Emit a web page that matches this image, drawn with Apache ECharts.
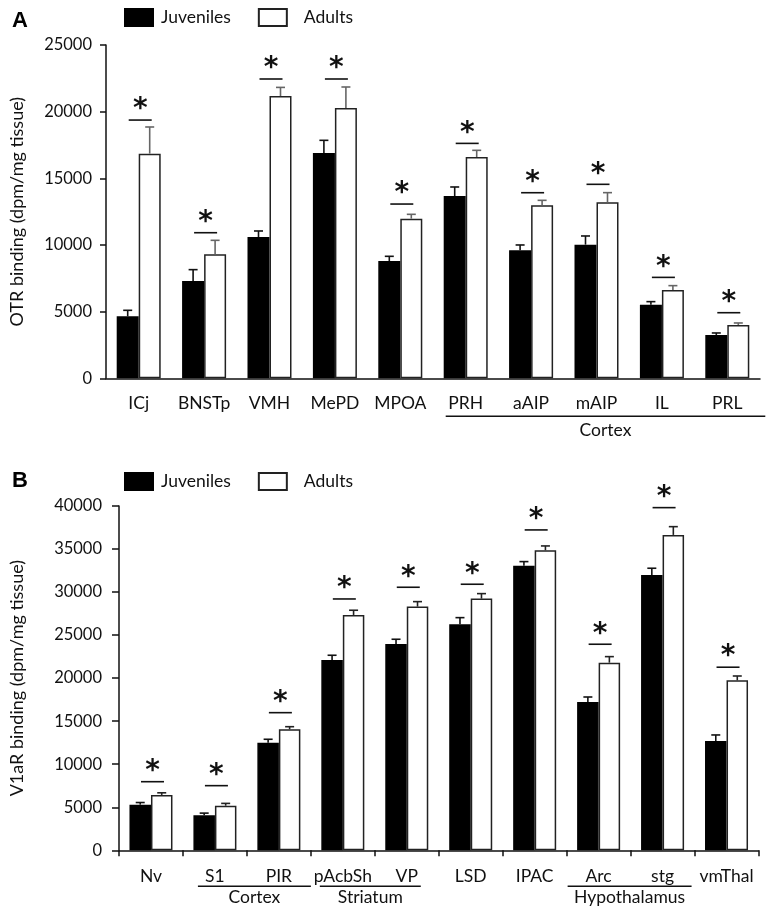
<!DOCTYPE html>
<html>
<head>
<meta charset="utf-8">
<script src="https://cdn.jsdelivr.net/npm/echarts@6/dist/echarts.min.js"></script>
<style>html,body{margin:0;padding:0;background:#fff}#c{width:767px;height:911px}</style>
</head>
<body>
<div id="c"></div>
<script>
// ---------- Panel A data (OTR binding) ----------
const catsA = ['ICj', 'BNSTp', 'VMH', 'MePD', 'MPOA', 'PRH', 'aAIP', 'mAIP', 'IL', 'PRL'];
const juvA = [4650, 7300, 10600, 16900, 8800, 13670, 9600, 10025, 5525, 3250];
const juvErrA = [450, 850, 450, 950, 350, 680, 400, 650, 225, 150];
const adA = [16850, 9300, 21170, 20270, 11975, 16600, 12975, 13200, 6625, 4000];
const adErrA = [2000, 1050, 650, 1580, 325, 500, 375, 725, 325, 150];
const sigA = [19370, 10920, 22450, 22450, 13070, 17620, 13920, 14550, 7570, 4920];
const groupsA = [['Cortex', 5, 9]];

// ---------- Panel B data (V1aR binding) ----------
const catsB = ['Nv', 'S1', 'PIR', 'pAcbSh', 'VP', 'LSD', 'IPAC', 'Arc', 'stg', 'vmThal'];
const juvB = [5300, 4070, 12500, 22110, 23970, 26260, 33070, 17230, 31990, 12700];
const juvErrB = [250, 250, 400, 550, 550, 770, 470, 580, 780, 700];
const adB = [6430, 5180, 14060, 27340, 28310, 29240, 34860, 21800, 36640, 19750];
const adErrB = [250, 270, 300, 550, 580, 580, 500, 700, 960, 500];
const sigB = [7970, 7510, 15990, 29200, 30560, 30910, 37220, 23940, 39810, 21270];
const groupsB = [['Cortex', 1, 2], ['Striatum', 3, 4], ['Hypothalamus', 7, 8]];

const yTicksA = { min: 0, max: 25000, interval: 5000 };
const yTicksB = { min: 0, max: 40000, interval: 5000 };

// ---------- style ----------
const FONT = 'Lato';
const TXT = '#111';
const bwA = 22, bwB = 21.5;
const padsA = [[-20, 38]];
const padsB = [[-17, 32], [-23, 14], [-31, 29]];

const chart = echarts.init(document.getElementById('c'), null, { renderer: 'canvas' });

function errSeries(vals, errs, side, bw, color, ax) {
  return {
    type: 'custom', xAxisIndex: ax, yAxisIndex: ax, z: 5, silent: true,
    data: vals.map((v, i) => [i, v, errs[i]]),
    renderItem: (params, api) => {
      const i = api.value(0), v = api.value(1), e = api.value(2);
      const b = api.coord([i, v]);
      const t = api.coord([i, v + e]);
      const x = b[0] + side * bw / 2;
      return {
        type: 'group', children: [
          { type: 'line', shape: { x1: x, y1: b[1], x2: x, y2: t[1] }, style: { stroke: color, lineWidth: 1.6 } },
          { type: 'line', shape: { x1: x - 4.5, y1: t[1], x2: x + 4.5, y2: t[1] }, style: { stroke: color, lineWidth: 1.6 } }
        ]
      };
    }
  };
}

function sigSeries(vals, ax) {
  return {
    type: 'custom', xAxisIndex: ax, yAxisIndex: ax, z: 6, silent: true,
    data: vals.map((v, i) => [i, v]),
    renderItem: (params, api) => {
      const c = api.coord([api.value(0), api.value(1)]);
      const cx = c[0] + 1.5;
      return {
        type: 'group', children: [
          { type: 'line', shape: { x1: cx - 11.5, y1: c[1], x2: cx + 11.5, y2: c[1] }, style: { stroke: '#111', lineWidth: 1.6 } },
          { type: 'text', style: { text: '*', x: cx, y: c[1] + 4, align: 'center', verticalAlign: 'bottom', fontSize: 28, fontWeight: 'bold', fontFamily: 'DejaVu Sans', fill: '#111' } }
        ]
      };
    }
  };
}

function groupSeries(groups, pads, ax, lineDy, textDy) {
  return {
    type: 'custom', xAxisIndex: ax, yAxisIndex: ax, z: 6, silent: true, clip: false,
    data: groups.map(g => [g[1], g[2]]),
    renderItem: (params, api) => {
      const p = pads[params.dataIndex];
      const a = api.coord([api.value(0), 0]);
      const b = api.coord([api.value(1), 0]);
      const x1 = a[0] + p[0], x2 = b[0] + p[1];
      const y = a[1];
      return {
        type: 'group', children: [
          { type: 'line', shape: { x1: x1, y1: y + lineDy, x2: x2, y2: y + lineDy }, style: { stroke: '#111', lineWidth: 1.6 } },
          { type: 'text', style: { text: groups[params.dataIndex][0], x: (x1 + x2) / 2, y: y + textDy, align: 'center', verticalAlign: 'middle', fontSize: 17.5, fontFamily: FONT, fill: TXT } }
        ]
      };
    }
  };
}

function barSeries(name, vals, ax, bw, fill, border) {
  return {
    name: name, type: 'bar', xAxisIndex: ax, yAxisIndex: ax, data: vals,
    barWidth: bw, barGap: '0%',
    itemStyle: { color: fill, borderColor: border, borderWidth: 1.5 },
    emphasis: { disabled: true }
  };
}

function legend(top) {
  return {
    left: 119, top: top, itemWidth: 28, itemHeight: 17, itemGap: 27, icon: 'rect',
    selectedMode: false,
    textStyle: { fontSize: 17.5, fontFamily: FONT, color: TXT },
    data: [
      { name: 'Juveniles', textStyle: { padding: [0, 0, 0, 3] } },
      { name: 'Adults', textStyle: { padding: [0, 0, 0, 12] } }
    ]
  };
}

const axisLine = { show: true, lineStyle: { color: '#111', width: 1.5 } };
const plain = v => String(v);

const option = {
  animation: false,
  backgroundColor: '#fff',
  title: [
    { text: 'A', left: 7, top: 5, textStyle: { fontSize: 22, fontWeight: 'bold', fontFamily: 'Liberation Sans', color: '#000' } },
    { text: 'B', left: 7, top: 465, textStyle: { fontSize: 22, fontWeight: 'bold', fontFamily: 'Liberation Sans', color: '#000' } }
  ],
  legend: [legend(3), legend(467)],
  grid: [
    { left: 94, right: 7, top: 45, bottom: 911 - 378.3 },
    { left: 106.7, right: 8.5, top: 506, bottom: 911 - 850.3 }
  ],
  xAxis: [
    {
      type: 'category', gridIndex: 0, data: catsA, axisLine: axisLine, axisTick: { show: false },
      axisLabel: { margin: 16, fontSize: 17.5, fontFamily: FONT, color: TXT, interval: 0 }
    },
    {
      type: 'category', gridIndex: 1, data: catsB, axisLine: axisLine,
      axisTick: { show: true, length: 6, lineStyle: { color: '#111', width: 1.5 } },
      axisLabel: { margin: 17, fontSize: 17.5, fontFamily: FONT, color: TXT, interval: 0 }
    }
  ],
  yAxis: [
    {
      type: 'value', gridIndex: 0, min: yTicksA.min, max: yTicksA.max, interval: yTicksA.interval,
      name: 'OTR binding (dpm/mg tissue)', nameLocation: 'middle', nameGap: 80,
      nameTextStyle: { fontSize: 18, fontFamily: FONT, color: TXT },
      axisLine: axisLine, axisTick: { show: true, length: 6, lineStyle: { color: '#111', width: 1.5 } },
      splitLine: { show: false },
      axisLabel: { margin: 14, fontSize: 16.5, fontFamily: FONT, color: TXT, formatter: plain }
    },
    {
      type: 'value', gridIndex: 1, min: yTicksB.min, max: yTicksB.max, interval: yTicksB.interval,
      name: 'V1aR binding (dpm/mg tissue)', nameLocation: 'middle', nameGap: 93,
      nameTextStyle: { fontSize: 18, fontFamily: FONT, color: TXT },
      axisLine: axisLine, axisTick: { show: true, length: 7, lineStyle: { color: '#111', width: 1.5 } },
      splitLine: { show: false },
      axisLabel: { margin: 17, fontSize: 16.5, fontFamily: FONT, color: TXT, formatter: plain }
    }
  ],
  series: [
    barSeries('Juveniles', juvA, 0, bwA, '#000', '#000'),
    barSeries('Adults', adA, 0, bwA, '#fff', '#222'),
    errSeries(juvA, juvErrA, -1, bwA, '#111', 0),
    errSeries(adA, adErrA, 1, bwA, '#666', 0),
    sigSeries(sigA, 0),
    groupSeries(groupsA, padsA, 0, 38, 52),
    barSeries('Juveniles', juvB, 1, bwB, '#000', '#000'),
    barSeries('Adults', adB, 1, bwB, '#fff', '#222'),
    errSeries(juvB, juvErrB, -1, bwB, '#111', 1),
    errSeries(adB, adErrB, 1, bwB, '#222', 1),
    sigSeries(sigB, 1),
    groupSeries(groupsB, padsB, 1, 36, 47)
  ]
};
chart.setOption(option);
</script>
</body>
</html>
